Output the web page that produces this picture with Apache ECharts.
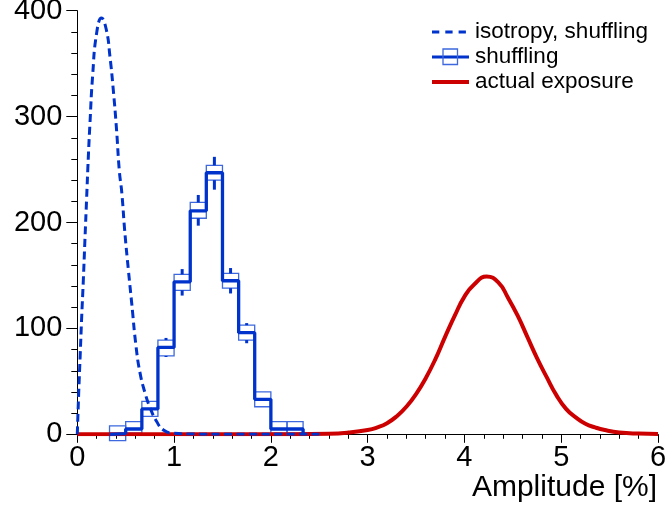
<!DOCTYPE html>
<html>
<head>
<meta charset="utf-8">
<script src="https://cdn.jsdelivr.net/npm/echarts@6/dist/echarts.min.js"></script>
<style>
  html, body { margin: 0; padding: 0; background: #fff; }
  #main { width: 668px; height: 518px; }
</style>
</head>
<body>
<div id="main"></div>
<script>
/*  1、data  */
// axis ticks
var xTicks = [0, 1, 2, 3, 4, 5, 6];
var yTicks = [0, 100, 200, 300, 400];

// isotropy, shuffling (dashed curve)
var isoX = [0, 0.014, 0.03, 0.045, 0.062, 0.079, 0.096, 0.114, 0.131, 0.158, 0.2, 0.25, 0.3, 0.337, 0.372, 0.406, 0.434, 0.46, 0.49, 0.528, 0.562, 0.607, 0.648, 0.7, 0.752, 0.82, 0.89, 0.99, 1.2, 1.5, 2.5];
var isoY = [0, 38, 75, 110, 145, 184, 222, 262, 294, 338, 379, 393, 382, 357, 325, 287, 249, 228, 192, 155, 124, 83, 58, 39, 25, 12, 4, 1, 0.2, 0, 0];

// shuffling histogram (bin edges, counts, boxes, error bars)
var binEdges = [0.333, 0.5, 0.667, 0.833, 1.0, 1.167, 1.333, 1.5, 1.667, 1.833, 2.0, 2.167, 2.333];
var binCounts = [0.7, 5, 24, 82, 144, 211, 247, 145, 96, 33, 5, 5];
var boxLow = [-6, 1, 17, 74, 136, 204, 240, 138, 89, 26, 1, 1];
var boxHigh = [8, 12, 31, 89, 151, 219, 254, 152, 103, 40, 12, 12];
var errLow = [0, 2.5, 19, 73, 131, 197, 231, 133, 86, 27, 2.5, 2.5];
var errHigh = [1.5, 7, 29, 91, 156, 226, 262, 157, 105, 39, 7, 7];

// actual exposure (red curve)
var expX = [0, 2.2, 2.6, 2.8, 3.0, 3.1, 3.2, 3.3, 3.4, 3.5, 3.6, 3.7, 3.8, 3.9, 4.0, 4.1, 4.23, 4.35, 4.45, 4.55, 4.65, 4.75, 4.85, 4.95, 5.05, 5.15, 5.25, 5.35, 5.45, 5.6, 5.8, 6.0];
var expY = [0, 0.1, 0.5, 1.6, 4, 6.5, 10.5, 17, 26, 38, 53, 71, 92, 112, 130, 141.5, 149, 143.5, 129, 112, 92, 72, 54, 37, 24, 16, 10, 6.5, 4, 1.7, 0.7, 0.4];

/*  2、colours / fonts  */
var FONT = 'Liberation Sans, Arial, Helvetica, sans-serif';
var BLUE = '#0033cc';
var BOX_BLUE = '#3d68de';
var RED = '#cc0000';

function pairs(xs, ys) {
  return xs.map(function (x, i) { return [x, ys[i]]; });
}

// step line points for the histogram outline
var stepData = [[binEdges[0], 0]];
for (var i = 0; i < binCounts.length; i++) {
  stepData.push([binEdges[i], binCounts[i]]);
}
stepData.push([binEdges[binEdges.length - 1], 0]);

var boxData = binCounts.map(function (c, i) {
  return [binEdges[i], binEdges[i + 1], boxLow[i], boxHigh[i], errLow[i], errHigh[i]];
});

function renderBox(params, api) {
  var lt = api.coord([api.value(0), api.value(3)]);
  var rb = api.coord([api.value(1), api.value(2)]);
  var xc = (lt[0] + rb[0]) / 2;
  var eTop = api.coord([api.value(0), api.value(5)])[1];
  var eBot = api.coord([api.value(0), api.value(4)])[1];
  var children = [{
    type: 'rect',
    shape: { x: lt[0], y: lt[1], width: rb[0] - lt[0], height: rb[1] - lt[1] },
    style: { fill: 'none', stroke: BOX_BLUE, lineWidth: 1.3 }
  }];
  if (eTop < lt[1]) {
    children.push({ type: 'line', shape: { x1: xc, y1: eTop, x2: xc, y2: lt[1] }, style: { stroke: BLUE, lineWidth: 3 } });
  }
  if (eBot > rb[1]) {
    children.push({ type: 'line', shape: { x1: xc, y1: rb[1], x2: xc, y2: eBot }, style: { stroke: BLUE, lineWidth: 3 } });
  }
  return { type: 'group', children: children };
}

/*  3、legend drawn as graphic  */
var legendX = 432, legendTextX = 475;
var legendRows = [32, 57, 82];
var legendNames = ['isotropy, shuffling', 'shuffling', 'actual exposure'];

var graphics = [
  { type: 'line', shape: { x1: legendX, y1: legendRows[0], x2: legendX + 34, y2: legendRows[0] },
    style: { stroke: BLUE, lineWidth: 3, lineDash: [7.3, 6] } },
  { type: 'line', shape: { x1: legendX, y1: legendRows[1], x2: legendX + 37, y2: legendRows[1] },
    style: { stroke: BLUE, lineWidth: 3 } },
  { type: 'rect', shape: { x: legendX + 11, y: legendRows[1] - 8, width: 14.5, height: 15.5 },
    style: { fill: 'none', stroke: BOX_BLUE, lineWidth: 1.3 } },
  { type: 'line', shape: { x1: legendX, y1: legendRows[2], x2: legendX + 37, y2: legendRows[2] },
    style: { stroke: RED, lineWidth: 4 } },
  // axis title
  { type: 'text', right: 11, top: 473,
    style: { text: 'Amplitude [%]', font: '30px ' + FONT, fill: '#000' } }
];
legendNames.forEach(function (name, i) {
  graphics.push({
    type: 'text', x: legendTextX, y: legendRows[i],
    style: { text: name, font: '22.5px ' + FONT, fill: '#000', verticalAlign: 'middle', align: 'left' }
  });
});

/*  4、chart  */
var chart = echarts.init(document.getElementById('main'), null, { renderer: 'canvas' });
chart.setOption({
  animation: false,
  backgroundColor: '#fff',
  grid: { left: 77.3, right: 10, top: 10.7, bottom: 83.7, containLabel: false, outerBoundsMode: 'none' },
  xAxis: {
    type: 'value',
    min: xTicks[0], max: xTicks[xTicks.length - 1], interval: 1,
    axisLine: { show: true, onZero: false, lineStyle: { color: '#000', width: 1 } },
    axisTick: { show: true, inside: false, length: 8.5, lineStyle: { color: '#000' } },
    minorTick: { show: true, splitNumber: 5, length: 4.5, lineStyle: { color: '#000' } },
    splitLine: { show: false },
    axisLabel: { fontSize: 29, fontFamily: FONT, color: '#000', margin: 9 }
  },
  yAxis: {
    type: 'value',
    min: yTicks[0], max: yTicks[yTicks.length - 1], interval: 100,
    axisLine: { show: true, lineStyle: { color: '#000', width: 1 } },
    axisTick: { show: true, inside: false, length: 11, lineStyle: { color: '#000' } },
    minorTick: { show: true, splitNumber: 5, length: 6, lineStyle: { color: '#000' } },
    splitLine: { show: false },
    axisLabel: { fontSize: 29, fontFamily: FONT, color: '#000', margin: 15 }
  },
  graphic: graphics,
  series: [
    {
      name: 'shuffling boxes',
      type: 'custom',
      z: 1,
      clip: false,
      renderItem: renderBox,
      encode: { x: [0, 1], y: [2, 3, 4, 5] },
      data: boxData
    },
    {
      name: 'actual exposure',
      type: 'line',
      z: 2,
      symbol: 'none',
      smooth: true,
      lineStyle: { color: RED, width: 4 },
      data: pairs(expX, expY)
    },
    {
      name: 'shuffling',
      type: 'line',
      z: 3,
      symbol: 'none',
      step: 'end',
      lineStyle: { color: BLUE, width: 3.3 },
      data: stepData
    },
    {
      name: 'isotropy, shuffling',
      type: 'line',
      z: 4,
      symbol: 'none',
      smooth: true,
      lineStyle: { color: BLUE, width: 3, type: [8, 4.5] },
      data: pairs(isoX, isoY)
    }
  ]
});
</script>
</body>
</html>
